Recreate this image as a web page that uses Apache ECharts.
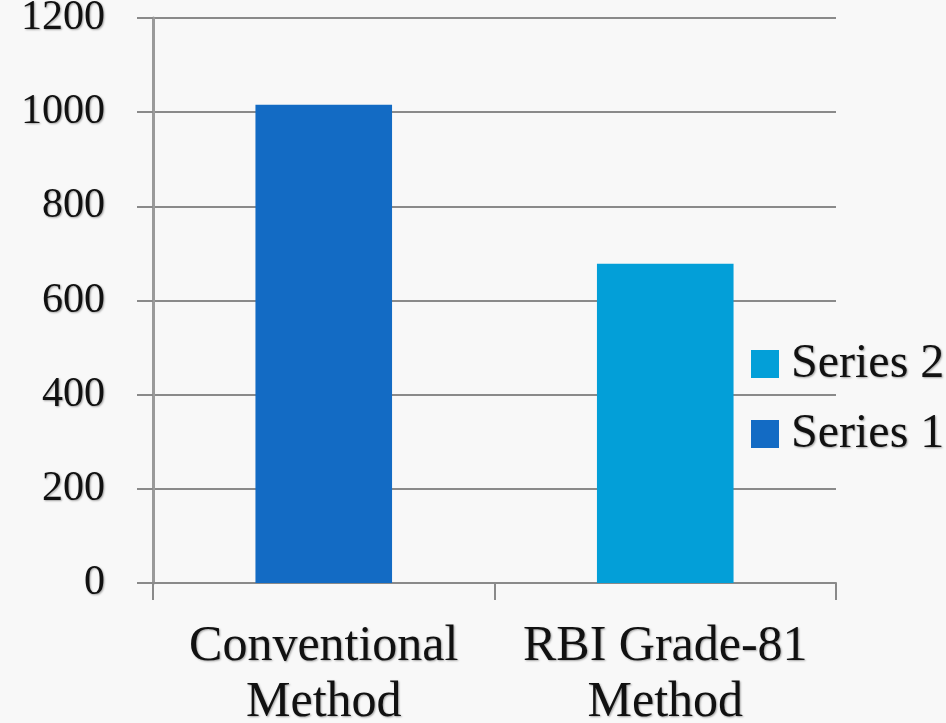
<!DOCTYPE html>
<html>
<head>
<meta charset="utf-8">
<script src="https://cdn.jsdelivr.net/npm/echarts@6/dist/echarts.min.js"></script>
<style>
html,body{margin:0;padding:0;background:#f8f8f8;}
#chart{width:946px;height:723px;}
</style>
</head>
<body>
<div id="chart"></div>
<script>
const categories = ['Conventional\nMethod', 'RBI Grade-81\nMethod'];
const series1Values = [1016, '-'];
const series2Values = ['-', 678];
const seriesNames = ['Series 1', 'Series 2'];
const legendOrder = ['Series 2', 'Series 1'];

const fontFam = '"Liberation Serif", "DejaVu Serif", serif';
const shadow = { textShadowColor: 'rgba(0,0,0,0.35)', textShadowBlur: 2, textShadowOffsetX: 1, textShadowOffsetY: 1 };
const chart = echarts.init(document.getElementById('chart'));
chart.setOption({
  backgroundColor: '#f8f8f8',
  animation: false,
  grid: { left: 153, right: 110, top: 18, bottom: 140, containLabel: false, outerBoundsMode: 'none' },
  legend: {
    data: legendOrder,
    orient: 'vertical',
    left: 746,
    top: 335,
    itemWidth: 28,
    itemHeight: 28,
    itemGap: 22,
    icon: 'rect',
    textStyle: Object.assign({ fontFamily: fontFam, fontSize: 48, color: '#111', padding: [0,0,0,7] }, shadow)
  },
  xAxis: {
    type: 'category',
    data: categories,
    axisLine: { show: true, lineStyle: { color: '#8a8a8a', width: 2 } },
    axisTick: { show: true, interval: 0, length: 17, lineStyle: { color: '#8a8a8a', width: 2 } },
    axisLabel: Object.assign({ interval: 0, hideOverlap: false, fontFamily: fontFam, fontSize: 50, color: '#111', lineHeight: 56, margin: 36 }, shadow)
  },
  yAxis: {
    type: 'value',
    min: 0, max: 1200, interval: 200,
    axisLine: { show: true, lineStyle: { color: '#9a9a9a', width: 3 } },
    axisTick: { show: true, inside: false, length: 16, lineStyle: { color: '#8a8a8a', width: 2 } },
    splitLine: { show: true, lineStyle: { color: '#8a8a8a', width: 2 } },
    axisLabel: Object.assign({ fontFamily: fontFam, fontSize: 42, color: '#111', margin: 48,
      formatter: function (v) { return String(v); } }, shadow)
  },
  series: [
    { name: seriesNames[0], type: 'bar', stack: 's', data: series1Values, barWidth: '40%',
      itemStyle: { color: '#136bc4' } },
    { name: seriesNames[1], type: 'bar', stack: 's', data: series2Values, barWidth: '40%',
      itemStyle: { color: '#039fd8' } }
  ]
});
</script>
</body>
</html>
